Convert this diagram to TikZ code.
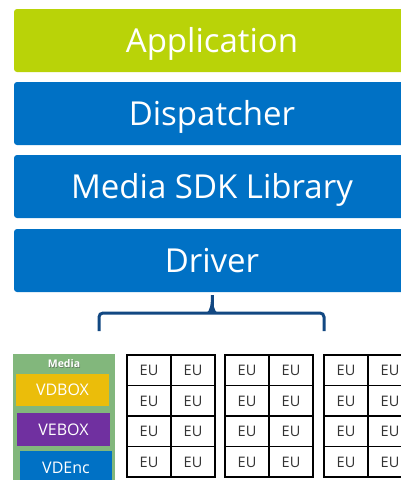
\documentclass[tikz,border=0pt]{standalone}
\usepackage{fontspec}
\setmainfont{Open Sans}
\definecolor{appgreen}{RGB}{185,211,8}
\definecolor{intelblue}{RGB}{0,113,197}
\definecolor{bracecol}{RGB}{18,72,130}
\definecolor{mediagreen}{RGB}{130,183,124}
\definecolor{vdyellow}{RGB}{235,189,10}
\definecolor{vepurple}{RGB}{112,48,160}
\begin{document}
\begin{tikzpicture}[x=1pt,y=-1pt,
  layer/.style={rectangle,rounded corners=3pt,minimum width=396pt,minimum height=63pt,inner sep=0pt,text=white,font=\fontsize{33}{36}\selectfont,text height=23.5pt,text depth=0pt},
  engine/.style={rectangle,inner sep=0pt,text=white,font=\fontsize{16}{18}\selectfont,text height=11.4pt,text depth=0pt},
  eucell/.style={rectangle,draw=black,line width=1.8pt,fill=white,minimum width=44pt,minimum height=30.5pt,inner sep=0pt,text=black!80,font=\fontsize{14.5}{16}\selectfont,text height=10.4pt,text depth=0pt},
  bracestyle/.style={draw=bracecol,line width=3pt,rounded corners=4pt}]
\useasboundingbox (0,0) rectangle (401,480);
\clip (0,0) rectangle (401,480);
\fill[white] (0,0) rectangle (401,480);
% layers
\node[layer,fill=appgreen] (app) at (212,40.5) {Application};
\node[layer,fill=intelblue] (disp) at (212,113.5) {Dispatcher};
\node[layer,fill=intelblue] (sdk) at (212,186.5) {Media SDK Library};
\node[layer,fill=intelblue] (drv) at (212,260.5) {Driver};
% brace
\coordinate (bl) at (99,331);
\coordinate (br) at (324,331);
\coordinate (bm) at (212,313);
\draw[bracestyle] (bl) -- (99,313) -- (bm) -- (324,313) -- (br);
\draw[bracecol,line width=3pt] (bm) -- (drv.south |- 0,295);
\fill[bracecol] (206,313.5) .. controls (210,311) and (211,305) .. (211,295) -- (213,295) .. controls (213,305) and (214,311) .. (218,313.5) -- cycle;
% media block
\fill[mediagreen] (13,354) rectangle (115,485);
\node[font=\bfseries\fontsize{10.5}{12}\selectfont,text=black!70,opacity=0.5] at (64.7,364.7) {Media};
\node[font=\bfseries\fontsize{10.5}{12}\selectfont,text=white] (medialbl) at (64,364) {Media};
\node[engine,fill=vdyellow,minimum width=93pt,minimum height=32pt] (vdbox) at (62.5,390) {VDBOX};
\node[engine,fill=vepurple,minimum width=93pt,minimum height=33pt] (vebox) at (63.5,429.5) {VEBOX};
\node[engine,fill=intelblue,minimum width=92pt,minimum height=34pt,anchor=north,text height=11.4pt,yshift=0pt] (vdenc) at (66,451) {\raisebox{0pt}{VDEnc}};
% EU grids
\foreach \g/\x in {1/127,2/225,3/324}{
  \foreach \r in {0,1,2,3}{
    \foreach \c in {0,1}{
      \node[eucell] (eu\g\r\c) at ({\x+22+44*\c},{370.3+30.5*\r}) {EU};
    }
  }
}
\end{tikzpicture}
\end{document}
